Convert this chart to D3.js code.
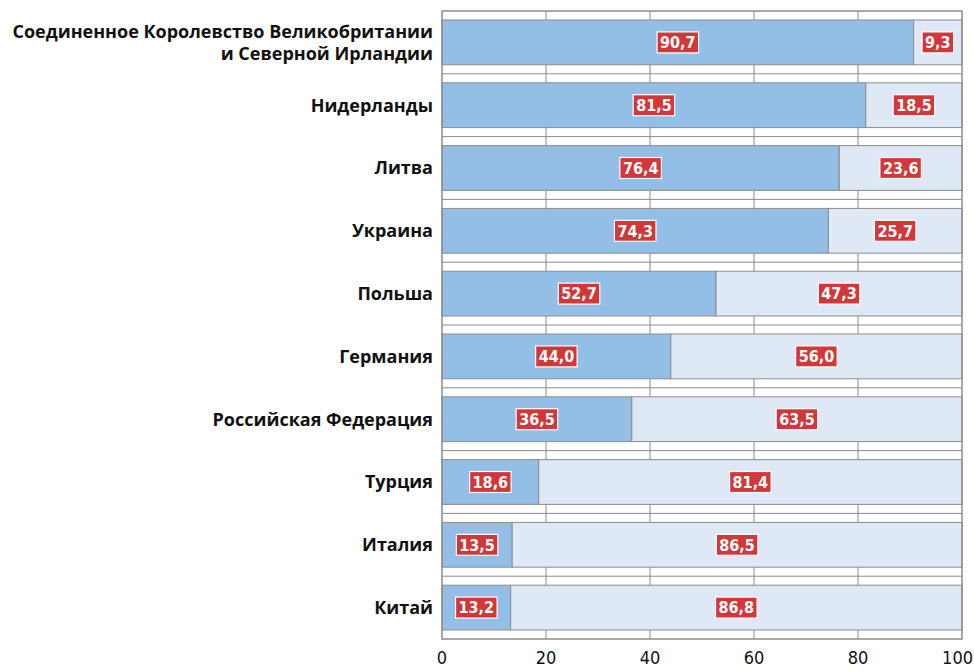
<!DOCTYPE html>
<html><head><meta charset="utf-8">
<script src="https://cdn.jsdelivr.net/npm/d3@7"></script>
<style>body{margin:0;background:#fff}svg{display:block}</style>
</head><body>
<svg id="chart" width="974" height="672"></svg>
<script>
const categories = [
  ["Соединенное Королевство Великобритании","и Северной Ирландии"],
  ["Нидерланды"],["Литва"],["Украина"],["Польша"],["Германия"],
  ["Российская Федерация"],["Турция"],["Италия"],["Китай"]
];
const seriesA = [90.7,81.5,76.4,74.3,52.7,44.0,36.5,18.6,13.5,13.2];
const seriesB = [9.3,18.5,23.6,25.7,47.3,56.0,63.5,81.4,86.5,86.8];
const tickValues = [0,20,40,60,80,100];

const svg = d3.select("#chart");
const m = {left:442, right:962, top:11, bottom:639};
const x = d3.scaleLinear().domain([0,100]).range([m.left, m.right]);
const y = d3.scaleBand().domain(d3.range(categories.length)).range([m.top, m.bottom]).paddingInner(0.287).paddingOuter(0.1435);
const grid = "#8c8c8c";
const fmt = v => v.toFixed(1).replace(".", ",");

// vertical grid
svg.append("g").selectAll("line").data(tickValues.slice(1,-1)).join("line")
  .attr("x1", d=>x(d)).attr("x2", d=>x(d)).attr("y1", m.top).attr("y2", m.bottom)
  .attr("stroke", grid).attr("stroke-width", 1);
// horizontal band separators
svg.append("g").selectAll("line").data(d3.range(1, categories.length)).join("line")
  .attr("x1", m.left).attr("x2", m.right)
  .attr("y1", d=>m.top + d*(m.bottom-m.top)/categories.length)
  .attr("y2", d=>m.top + d*(m.bottom-m.top)/categories.length)
  .attr("stroke", grid).attr("stroke-width", 1);

const rows = svg.append("g").selectAll("g").data(categories).join("g");
rows.append("rect").attr("x", x(0)).attr("y", (d,i)=>y(i))
  .attr("width", (d,i)=>x(seriesA[i])-x(0)).attr("height", y.bandwidth())
  .attr("fill", "#93bee6").attr("stroke", grid);
rows.append("rect").attr("x", (d,i)=>x(seriesA[i])).attr("y", (d,i)=>y(i))
  .attr("width", (d,i)=>x(100)-x(seriesA[i])).attr("height", y.bandwidth())
  .attr("fill", "#dfe8f5").attr("stroke", grid);

// plot border
svg.append("rect").attr("x", m.left).attr("y", m.top).attr("width", m.right-m.left).attr("height", m.bottom-m.top)
  .attr("fill","none").attr("stroke", grid).attr("stroke-width", 1.5);

// value labels
function addLabel(cx, cy, txt){
  const g = svg.append("g");
  const t = g.append("text").attr("x", cx).attr("y", cy).attr("text-anchor","middle").attr("dy","0.36em")
    .attr("font-family","'Liberation Sans Narrow','DejaVu Sans Condensed',sans-serif").attr("font-weight","bold")
    .attr("font-size", 16).attr("fill","#fff").text(txt);
  const bb = t.node().getBBox();
  g.insert("rect","text").attr("x", bb.x-3).attr("y", cy-10.5).attr("width", bb.width+6).attr("height", 21)
    .attr("fill","#d2383a").attr("stroke","#fff").attr("stroke-width",1.2);
}
categories.forEach((c,i)=>{
  const cy = y(i)+y.bandwidth()/2;
  addLabel((x(0)+x(seriesA[i]))/2, cy, fmt(seriesA[i]));
  addLabel((x(seriesA[i])+x(100))/2, cy, fmt(seriesB[i]));
});

// category labels
categories.forEach((c,i)=>{
  const cy = y(i)+y.bandwidth()/2;
  c.forEach((line,j)=>{
    svg.append("text").attr("x", 433).attr("text-anchor","end")
      .attr("font-family","'Open Sans',sans-serif").attr("font-weight","bold").attr("font-size",18).attr("fill","#111")
      .attr("y", cy + (j - (c.length-1)/2)*22).attr("dy","0.35em").text(line);
  });
});

// x axis ticks
const last = tickValues[tickValues.length-1];
svg.append("g").selectAll("text").data(tickValues).join("text")
  .attr("x", d=>x(d)).attr("y", 664)
  .attr("text-anchor", d=> d===last ? "end" : "middle")
  .attr("dx", d=> d===last ? 11 : 0)
  .attr("font-family","'Liberation Sans Narrow','DejaVu Sans Condensed',sans-serif")
  .attr("font-size", 18).attr("fill","#111").text(d=>d);
</script>
</body></html>
